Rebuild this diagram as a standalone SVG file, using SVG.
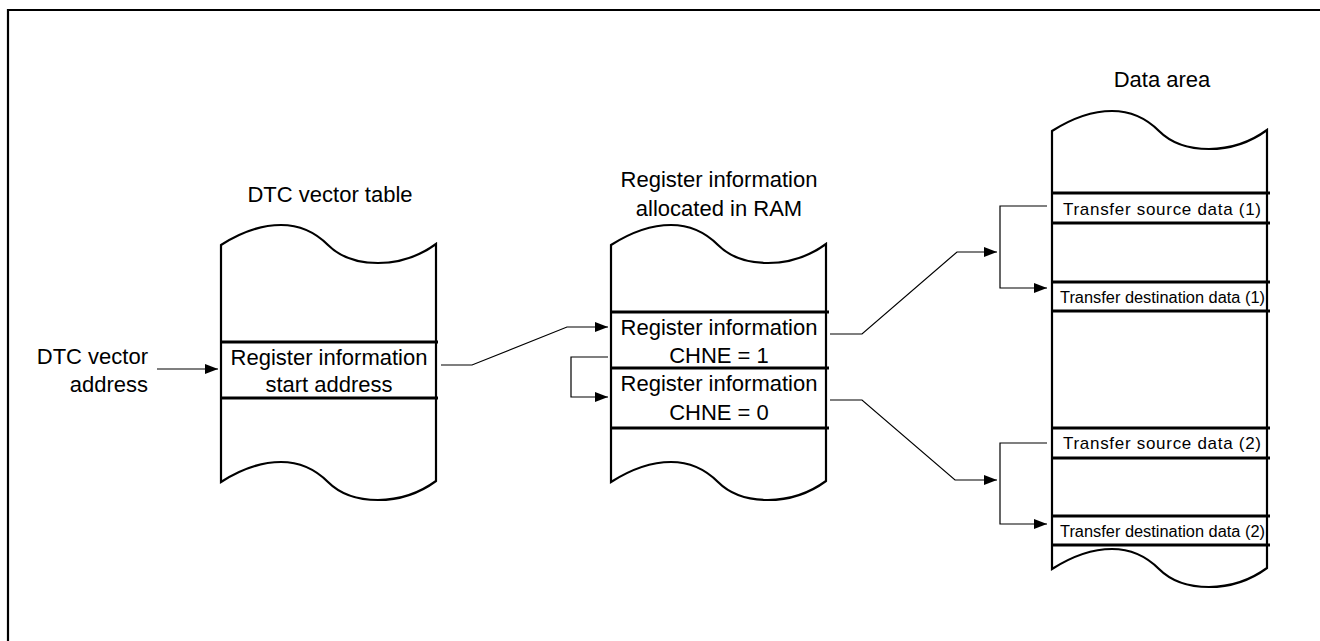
<svg xmlns="http://www.w3.org/2000/svg" width="1320" height="641" viewBox="0 0 1320 641">
<style>
.shape{fill:#fff;stroke:#000;stroke-width:2.2;stroke-linejoin:miter}
.div{stroke:#000;stroke-width:2.8}
.con{fill:none;stroke:#000;stroke-width:1.2}
.t{font-family:"Liberation Sans",Arial,sans-serif;font-size:22px;fill:#000}
.s{font-family:"Liberation Sans",Arial,sans-serif;font-size:17px;fill:#000}
.d{font-family:"Liberation Sans",Arial,sans-serif;font-size:16px;fill:#000}
</style>
<defs>
<marker id="ah" markerUnits="userSpaceOnUse" markerWidth="14" markerHeight="11" refX="13" refY="5" orient="auto">
<path d="M0,0 L13,5 L0,10 z" fill="#000"/>
</marker>
</defs>
<rect width="1320" height="641" fill="#fff"/>
<g id="frame">
<path d="M8,641 V10 H1320" fill="none" stroke="#000" stroke-width="2.2"/>
</g>
<g id="dtc-vector-table">
<text class="t" x="330" y="202" text-anchor="middle">DTC vector table</text>
<path class="shape" d="M221,245 c22,-14 40,-20 60,-20 c22,0 36,9 47,20 c12,12 28,18 50,18 c25,0 43,-8 58,-19 v237 c-15,11 -33,19 -58,19 c-22,0 -38,-6 -50,-18 c-11,-11 -25,-20 -47,-20 c-20,0 -38,6 -60,20 z"/>
<line class="div" x1="221" y1="342" x2="438" y2="342"/>
<line class="div" x1="221" y1="398" x2="438" y2="398"/>
<text class="t" x="329" y="365" text-anchor="middle">Register information</text>
<text class="t" x="329" y="392" text-anchor="middle">start address</text>
</g>
<g id="dtc-vector-address">
<text class="t" x="148" y="364" text-anchor="end">DTC vector</text>
<text class="t" x="148" y="392" text-anchor="end">address</text>
</g>
<g id="register-ram">
<text class="t" x="719" y="187" text-anchor="middle">Register information</text>
<text class="t" x="719" y="216" text-anchor="middle">allocated in RAM</text>
<path class="shape" d="M611,245 c22,-14 40,-20 60,-20 c22,0 36,9 47,20 c12,12 28,18 50,18 c25,0 43,-8 58,-19 v237 c-15,11 -33,19 -58,19 c-22,0 -38,-6 -50,-18 c-11,-11 -25,-20 -47,-20 c-20,0 -38,6 -60,20 z"/>
<line class="div" x1="611" y1="312" x2="829" y2="312"/>
<line class="div" x1="611" y1="368" x2="829" y2="368"/>
<line class="div" x1="611" y1="428" x2="829" y2="428"/>
<text class="t" x="719" y="335" text-anchor="middle">Register information</text>
<text class="t" x="719" y="363" text-anchor="middle">CHNE = 1</text>
<text class="t" x="719" y="391" text-anchor="middle">Register information</text>
<text class="t" x="719" y="420" text-anchor="middle">CHNE = 0</text>
</g>
<g id="data-area">
<text class="t" x="1162" y="87" text-anchor="middle">Data area</text>
<path class="shape" d="M1052,131 c22,-14 40,-20 60,-20 c22,0 36,9 47,20 c12,12 28,18 50,18 c25,0 43,-8 58,-19 v438 c-15,11 -33,19 -58,19 c-22,0 -38,-6 -50,-18 c-11,-11 -25,-20 -47,-20 c-20,0 -38,6 -60,20 z"/>
<line class="div" x1="1052" y1="193" x2="1270" y2="193"/>
<line class="div" x1="1052" y1="223" x2="1270" y2="223"/>
<line class="div" x1="1052" y1="282" x2="1270" y2="282"/>
<line class="div" x1="1052" y1="311" x2="1270" y2="311"/>
<line class="div" x1="1052" y1="428" x2="1270" y2="428"/>
<line class="div" x1="1052" y1="458" x2="1270" y2="458"/>
<line class="div" x1="1052" y1="516" x2="1270" y2="516"/>
<line class="div" x1="1052" y1="545" x2="1270" y2="545"/>
<text class="s" x="1063" y="215" textLength="198" lengthAdjust="spacing">Transfer source data (1)</text>
<text class="d" x="1060" y="303" textLength="205" lengthAdjust="spacingAndGlyphs">Transfer destination data (1)</text>
<text class="s" x="1063" y="449" textLength="198" lengthAdjust="spacing">Transfer source data (2)</text>
<text class="d" x="1060" y="537" textLength="205" lengthAdjust="spacingAndGlyphs">Transfer destination data (2)</text>
</g>
<g id="connectors">
<path class="con" d="M157,369 H218" marker-end="url(#ah)"/>
<path class="con" d="M441,365 H472 L567,327 H608" marker-end="url(#ah)"/>
<path class="con" d="M608,357 H571 V397 H608" marker-end="url(#ah)"/>
<path class="con" d="M830,334 H862 L957,252 H997" marker-end="url(#ah)"/>
<path class="con" d="M1047,206 H1000 V288 H1047" marker-end="url(#ah)"/>
<path class="con" d="M830,400 H862 L955,480 H997" marker-end="url(#ah)"/>
<path class="con" d="M1047,443 H1000 V524 H1047" marker-end="url(#ah)"/>
</g>
</svg>
